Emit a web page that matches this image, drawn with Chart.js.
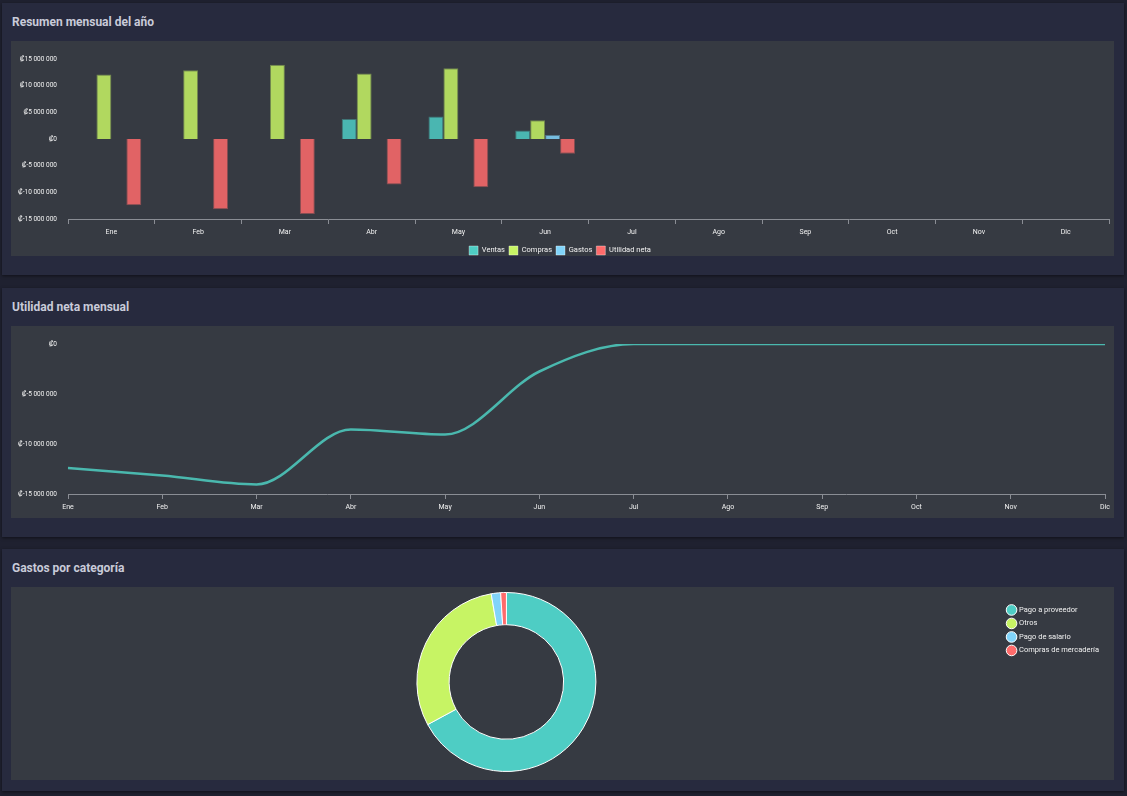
<!DOCTYPE html>
<html>
<head>
<meta charset="utf-8">
<script src="https://cdn.jsdelivr.net/npm/chart.js@4.4.0/dist/chart.umd.min.js"></script>
<style>
  body { margin:0; background:#1f2130; font-family: Roboto, "Open Sans", sans-serif; width:1127px; height:796px; overflow:hidden; position:relative; }
  .card { position:absolute; left:2px; width:1122px; background:#272a3e; box-shadow:0 1px 3px rgba(0,0,0,0.5); }
  .card h3 { position:absolute; left:10px; top:0; margin:0; font-size:12px; font-weight:bold; color:#c9cbd9; }
  .panel { position:absolute; left:9px; top:38px; width:1103px; background:#363a42; }
  canvas { display:block; }
</style>
</head>
<body>
<div class="card" style="top:3px;height:272px;">
  <h3 style="top:12px;">Resumen mensual del año</h3>
  <div class="panel" style="height:215px;"><canvas id="barras" width="1103" height="215"></canvas></div>
</div>
<div class="card" style="top:288px;height:249px;">
  <h3 style="top:12px;">Utilidad neta mensual</h3>
  <div class="panel" style="height:192px;"><canvas id="linea" width="1103" height="192"></canvas></div>
</div>
<div class="card" style="top:549px;height:242px;">
  <h3 style="top:12px;">Gastos por categoría</h3>
  <div class="panel" style="height:193px;"><canvas id="dona" width="1103" height="193"></canvas></div>
</div>
<script>
var meses = ['Ene','Feb','Mar','Abr','May','Jun','Jul','Ago','Sep','Oct','Nov','Dic'];
var ventas   = [0, 0, 0, 3750000, 4200000, 1600000, 0, 0, 0, 0, 0, 0];
var compras  = [12100000, 12900000, 13900000, 12300000, 13250000, 3500000, 0, 0, 0, 0, 0, 0];
var gastos   = [0, 0, 0, 0, 0, 750000, 0, 0, 0, 0, 0, 0];
var utilidad = [-12400000, -13150000, -14050000, -8550000, -9050000, -2750000, 0, 0, 0, 0, 0, 0];

var categorias = ['Pago a proveedor','Otros','Pago de salario','Compras de mercadería'];
var montos = [45600000, 20500000, 1150000, 700000];

var ticksBarras = [15000000, 10000000, 5000000, 0, -5000000, -10000000, -15000000];
var ticksLinea = [0, -5000000, -10000000, -15000000];

var colores = ['#4ecdc4', '#c7f464', '#81d4fa', '#ff6b6b'];
function rgba(hex, a){
  var n = parseInt(hex.slice(1), 16);
  return 'rgba(' + (n >> 16) + ',' + ((n >> 8) & 255) + ',' + (n & 255) + ',' + a + ')';
}

function colones(v){
  var s = Math.abs(v).toString().replace(/\B(?=(\d{3})+(?!\d))/g, ' ');
  return '₡' + (v < 0 ? '-' : '') + s;
}

Chart.defaults.font.family = 'Roboto, "Open Sans", sans-serif';
Chart.defaults.color = '#f2f2f2';
Chart.defaults.animation = false;

var ejeX = {
  grid: { display:true, drawOnChartArea:false, color:'#8a8d94', tickLength:5 },
  border: { color:'#8a8d94' },
  ticks: { font:{ size:7 }, color:'#f2f2f2', maxRotation:0, padding:4 }
};
var ticksY = { font:{ size:6.5 }, color:'#f2f2f2', callback:function(v){ return colones(v); } };

new Chart(document.getElementById('barras').getContext('2d'), {
  type: 'bar',
  data: {
    labels: meses,
    datasets: [
      { label:'Ventas', data:ventas, backgroundColor:rgba(colores[0],0.85), borderColor:rgba(colores[0],0.4), borderWidth:1 },
      { label:'Compras', data:compras, backgroundColor:rgba(colores[1],0.85), borderColor:rgba(colores[1],0.4), borderWidth:1 },
      { label:'Gastos', data:gastos, backgroundColor:rgba(colores[2],0.85), borderColor:rgba(colores[2],0.4), borderWidth:1 },
      { label:'Utilidad neta', data:utilidad, backgroundColor:rgba(colores[3],0.85), borderColor:rgba(colores[3],0.4), borderWidth:1 }
    ]
  },
  options: {
    responsive:false,
    categoryPercentage:0.69,
    barPercentage:1,
    layout:{ padding:{ top:18, left:0, right:5, bottom:0 } },
    plugins:{
      legend:{
        position:'bottom', maxHeight:14,
        labels:{
          boxWidth:9, boxHeight:9, font:{ size:7.5 }, color:'#f2f2f2', padding:4,
          generateLabels:function(chart){
            return Chart.defaults.plugins.legend.labels.generateLabels(chart).map(function(it, i){
              it.fillStyle = colores[i];
              it.strokeStyle = rgba('#ffffff', 0.35);
              it.lineWidth = 1;
              return it;
            });
          }
        }
      },
      tooltip:{ enabled:false }
    },
    scales:{
      x: Object.assign({}, ejeX, { afterFit:function(s){ s.height = 23; } }),
      y: {
        min:-15000000, max:15000000,
        afterBuildTicks:function(s){ s.ticks = ticksBarras.map(function(v){ return {value:v}; }); },
        afterFit:function(s){ s.width = 57; },
        grid:{ display:false }, border:{ display:false },
        ticks:ticksY
      }
    }
  }
});

new Chart(document.getElementById('linea').getContext('2d'), {
  type: 'line',
  data: {
    labels: meses,
    datasets: [{ label:'Utilidad neta', data:utilidad, borderColor:'#4ab8ae', backgroundColor:'#4ab8ae', borderWidth:2.5, pointRadius:0, fill:false, cubicInterpolationMode:'monotone' }]
  },
  options: {
    responsive:false,
    layout:{ padding:{ top:18, left:0, right:5, bottom:2 } },
    plugins:{ legend:{ display:false }, tooltip:{ enabled:false } },
    scales:{
      x: Object.assign({}, ejeX, { offset:false, afterFit:function(s){ s.height = 22; } }),
      y: {
        min:-15000000, max:0,
        afterBuildTicks:function(s){ s.ticks = ticksLinea.map(function(v){ return {value:v}; }); },
        afterFit:function(s){ s.width = 57; },
        grid:{ display:false }, border:{ display:false },
        ticks:ticksY
      }
    }
  }
});

new Chart(document.getElementById('dona').getContext('2d'), {
  type: 'doughnut',
  data: {
    labels: categorias,
    datasets: [{ data:montos, backgroundColor:colores, borderColor:'#ffffff', borderWidth:1 }]
  },
  options: {
    responsive:false,
    cutout:'64%',
    layout:{ padding:{ top:5, bottom:8, left:0, right:5 } },
    plugins:{
      legend:{
        position:'right', align:'start',
        title:{ display:true, text:'', font:{ size:1 }, padding:{ top:7, bottom:0 } },
        labels:{ usePointStyle:true, boxWidth:8, boxHeight:8, font:{ size:7.5 }, color:'#f2f2f2', padding:6 }
      },
      tooltip:{ enabled:false }
    }
  }
});
</script>
</body>
</html>
